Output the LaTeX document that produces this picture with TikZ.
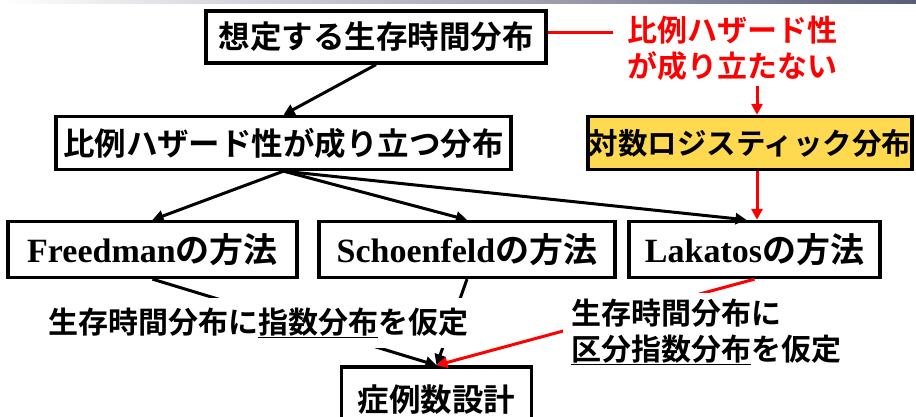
\documentclass[tikz,border=0pt]{standalone}
\usepackage{fontspec}
\setmainfont{Liberation Serif}
\newfontfamily\jp{Noto Sans CJK JP}[BoldFont={Noto Sans CJK JP Bold}]
\usetikzlibrary{arrows.meta}
\definecolor{boxyellow}{RGB}{255,217,80}
\definecolor{stripdark}{RGB}{92,92,120}
\begin{document}
\begin{tikzpicture}[x=1pt,y=-1pt,
  box/.style={draw=black, line width=3.3pt, fill=white, inner sep=0pt,
    font=\jp\bfseries\fontsize{31.5}{36}\selectfont},
  mbox/.style={box, font=\bfseries\fontsize{34}{40}\selectfont},
  arr/.style={line width=3pt, -{Triangle[length=11pt,width=11pt]}},
  redarr/.style={arr, red},
  redline/.style={line width=3pt, red},
  lbl/.style={fill=white, inner ysep=10pt, inner xsep=8pt,
    font=\jp\bfseries\fontsize{30}{36}\selectfont}
]
\useasboundingbox (0,0) rectangle (916,417);
\shade[left color=white, right color=stripdark] (0,0) rectangle (916,4);

% boxes
\node[box, minimum width=340pt, minimum height=52pt] (top) at (376,37) {想定する生存時間分布};
\node[box, minimum width=455pt, minimum height=53pt] (prop) at (283.5,143) {比例ハザード性が成り立つ分布};
\node[box, fill=boxyellow, minimum width=324pt, minimum height=53pt,
  font=\jp\bfseries\fontsize{29.5}{36}\selectfont] (yel) at (750,143) {対数ロジスティック分布};
\node[mbox, minimum width=289pt, minimum height=56pt] (fr) at (152.5,249.5) {Freedman{\jp\bfseries の方法}};
\node[mbox, minimum width=296pt, minimum height=56pt] (sch) at (467,249.5) {Schoenfeld{\jp\bfseries の方法}};
\node[mbox, minimum width=251pt, minimum height=56pt] (lak) at (754.5,249.5) {Lakatos{\jp\bfseries の方法}};
\node[box, minimum width=190pt, minimum height=66pt] (bot) at (436.5,400) {症例数設計};

% red annotation
\node[text=red, align=center, inner sep=0pt,
  font=\jp\bfseries\fontsize{30}{36}\selectfont] (rl) at (732,48) {比例ハザード性\\が成り立たない};
\coordinate (redend) at (613,33);
\coordinate (rx) at (757,0);
\draw[redline] (top.east |- redend) -- (redend);
\draw[redarr] ([yshift=-6pt]rl.south -| rx) -- (yel.north -| rx);
\draw[redarr] (yel.south -| rx) -- (lak.north -| rx);

% black connectors
\draw[arr] (top.south) -- (prop.north);
\draw[arr] (prop.south) -- (fr.north);
\draw[arr] (prop.south) -- (sch.north);
\draw[arr] (prop.south) -- ([xshift=-8pt]lak.north);

% to bottom
\draw[arr] (fr.south) -- (bot.north);
\draw[arr] (sch.south) -- (bot.north);
\draw[redarr] (lak.south) -- (bot.north);

% labels over lines
\node[lbl] (l1) at (258.5,323) {生存時間分布に\underline{指数分布}を仮定};
\node[lbl, anchor=west, align=left, inner ysep=6pt] (l2) at (563,332) {生存時間分布に\\\underline{区分指数分布}を仮定};
\end{tikzpicture}
\end{document}
